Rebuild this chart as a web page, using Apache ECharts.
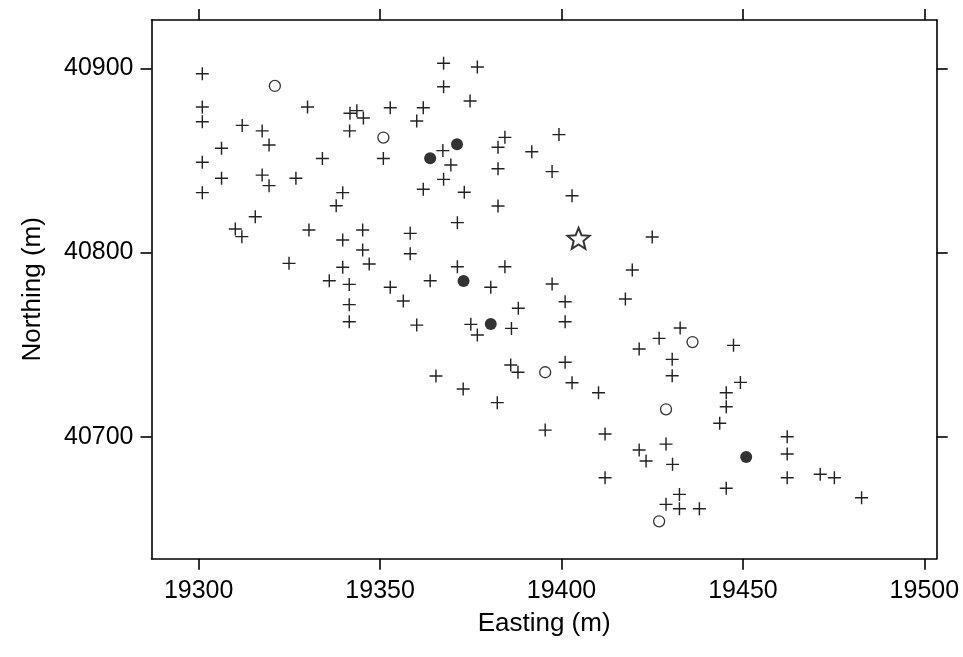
<!DOCTYPE html>
<html>
<head>
<meta charset="utf-8">
<title>Sample locations</title>
<script src="https://cdn.jsdelivr.net/npm/echarts@6/dist/echarts.min.js"></script>
<style>
  html, body { margin: 0; padding: 0; background: #fff; }
  #chart { width: 963px; height: 657px; }
</style>
</head>
<body>
<div id="chart"></div>
<script>
// Sampling sites: [easting, northing] in metres
const crossSites = [
  [19301, 40897], [19301, 40879], [19301, 40871], [19301, 40849], [19301, 40832.5],
  [19330, 40879], [19312, 40869], [19317.5, 40866], [19306.3, 40856.6], [19319.4, 40858.4],
  [19334.1, 40851], [19306.3, 40840.3], [19317.5, 40842], [19319.4, 40836.3], [19326.8, 40840.3],
  [19341.7, 40875.6], [19343.6, 40877], [19345.4, 40873], [19352.8, 40878.6], [19361.9, 40878.6],
  [19360.1, 40871.4], [19367.5, 40902.7], [19367.5, 40890], [19376.8, 40900.7], [19374.8, 40882.2],
  [19341.6, 40866], [19350.9, 40851], [19367.3, 40855.3], [19369.5, 40847.5], [19367.5, 40839.7],
  [19361.9, 40834.3], [19373.2, 40832.7], [19382.5, 40857.1], [19384.4, 40862.5], [19399.3, 40864],
  [19391.8, 40854.7], [19382.5, 40845.5], [19397.4, 40843.9], [19402.9, 40830.8], [19382.5, 40825.2],
  [19371.3, 40816.2], [19339.7, 40832.5], [19337.9, 40825.4], [19315.6, 40819.4], [19310.1, 40812.8],
  [19311.9, 40808.6], [19330.4, 40812.2], [19339.7, 40806.8], [19345.2, 40812.2], [19345.2, 40801.4],
  [19347, 40793.8], [19339.7, 40792], [19358.3, 40810.4], [19358.3, 40799.3], [19324.9, 40794.1],
  [19336, 40784.7], [19341.5, 40782.7], [19352.8, 40781.1], [19363.8, 40784.7], [19371.3, 40792.3],
  [19384.4, 40792.3], [19380.5, 40781.1], [19397.4, 40782.9], [19356.4, 40773.7], [19341.5, 40771.7],
  [19341.5, 40762.4], [19360.1, 40760.6], [19375, 40761], [19376.8, 40755.2], [19386.2, 40758.8],
  [19388.1, 40769.7], [19401, 40773.3], [19401, 40762.4], [19425, 40808.4], [19419.5, 40790.5],
  [19417.6, 40774.8], [19432.7, 40759], [19426.9, 40753.4], [19447.4, 40749.6], [19421.4, 40747.6],
  [19430.5, 40742], [19430.5, 40733.1], [19386, 40738.9], [19388, 40735], [19401, 40740.4],
  [19402.9, 40729.3], [19410.2, 40723.9], [19382.3, 40718.5], [19449.3, 40729.5], [19445.4, 40723.9],
  [19445.4, 40716.3], [19443.6, 40707.3], [19395.5, 40703.6], [19412, 40701.5], [19428.8, 40696],
  [19421.4, 40692.8], [19423.3, 40686.8], [19430.6, 40685], [19462.2, 40700], [19462.2, 40690.6],
  [19462.2, 40677.7], [19471.3, 40679.6], [19475.2, 40677.7], [19482.7, 40666.9], [19412, 40677.7],
  [19445.4, 40672], [19432.5, 40668.7], [19428.8, 40663.3], [19432.5, 40660.9], [19438, 40660.9],
  [19365.4, 40733], [19372.9, 40725.9]
];
const openSites = [
  [19321, 40890.4], [19350.9, 40862.4], [19436.1, 40751.4],
  [19395.5, 40735], [19428.8, 40714.9], [19426.9, 40654.1]
];
const filledSites = [
  [19363.8, 40851.1], [19371.2, 40858.7], [19373, 40784.5],
  [19380.5, 40761.2], [19450.9, 40689]
];
const starSite = [[19404.7, 40807.7]];

// Axis extents and tick positions
const xRange = [19287, 19503.4];
const yRange = [40633.8, 40926.2];
const xTicks = [19300, 19350, 19400, 19450, 19500];
const yTicks = [40700, 40800, 40900];

const FONT = 'Liberation Sans, Arial, Helvetica, sans-serif';
const INK = '#000';
const lineStyle = { color: INK, width: 1.6 };

// Thin plus sign and five-point star outlines
const plusPath = 'path://M4.45,0H5.55V4.45H10V5.55H5.55V10H4.45V5.55H0V4.45H4.45Z';
const starPath = 'path://M50,0L62.93,32.2L97.55,34.55L70.92,56.8L79.39,90.45L50,72L20.61,90.45L29.08,56.8L2.45,34.55L37.07,32.2Z';

function valueAxis(range, ticks, pos, withLabels, labelMargin, name, nameGap) {
  return {
    type: 'value',
    position: pos,
    min: range[0],
    max: range[1],
    scale: true,
    splitLine: { show: false },
    axisLine: { show: true, onZero: false, lineStyle: lineStyle },
    axisTick: { show: true, inside: false, length: 11, customValues: ticks, lineStyle: lineStyle },
    axisLabel: {
      show: withLabels,
      customValues: ticks,
      formatter: v => String(v),
      margin: labelMargin,
      color: INK,
      fontSize: 25,
      fontFamily: FONT
    },
    name: name || '',
    nameLocation: 'middle',
    nameGap: nameGap || 0,
    nameTextStyle: { color: INK, fontSize: 26, fontFamily: FONT }
  };
}

const chart = echarts.init(document.getElementById('chart'), null, { renderer: 'canvas' });
chart.setOption({
  animation: false,
  backgroundColor: '#fff',
  grid: { left: 151.5, right: 26.3, top: 20, bottom: 98.3, containLabel: false },
  xAxis: [
    valueAxis(xRange, xTicks, 'bottom', true, 20, 'Easting (m)', 52),
    valueAxis(xRange, xTicks, 'top', false, 8)
  ],
  yAxis: [
    valueAxis(yRange, yTicks, 'left', true, 18, 'Northing (m)', 106),
    valueAxis(yRange, yTicks, 'right', false, 8)
  ],
  series: [
    {
      type: 'scatter', silent: true, data: crossSites,
      symbol: plusPath, symbolSize: 13,
      itemStyle: { color: '#222', opacity: 1 }
    },
    {
      type: 'scatter', silent: true, data: openSites,
      symbol: 'circle', symbolSize: 11,
      itemStyle: { color: '#fff', borderColor: INK, borderWidth: 1.3 }
    },
    {
      type: 'scatter', silent: true, data: filledSites,
      symbol: 'circle', symbolSize: 12,
      itemStyle: { color: INK }
    },
    {
      type: 'scatter', silent: true, data: starSite,
      symbol: starPath, symbolSize: 22, symbolKeepAspect: true,
      itemStyle: { color: '#fff', borderColor: INK, borderWidth: 2 }
    }
  ]
});
</script>
</body>
</html>
